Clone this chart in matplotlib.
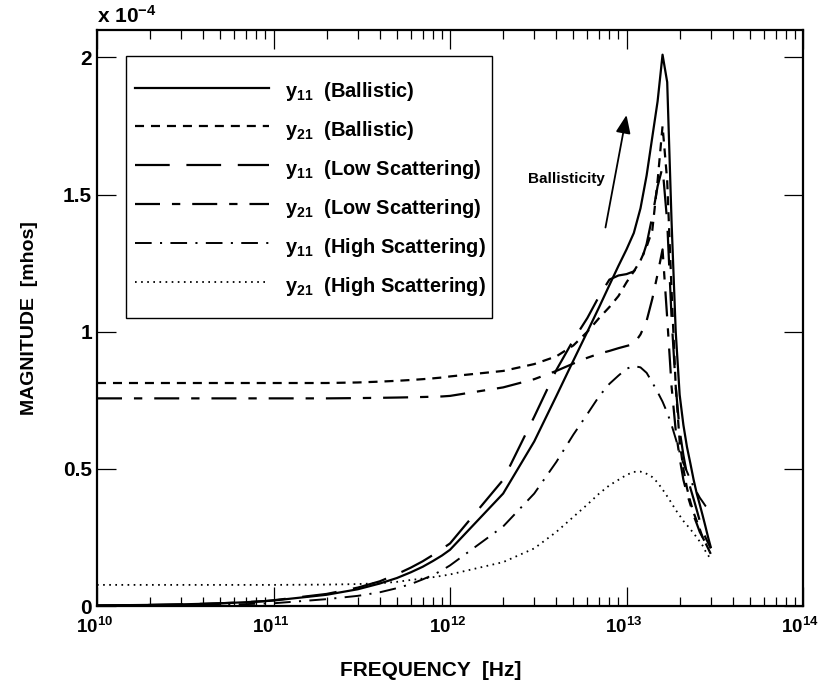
import matplotlib
matplotlib.use("Agg")
import matplotlib.pyplot as plt
from matplotlib.patches import Rectangle
from matplotlib.transforms import ScaledTranslation
from matplotlib.ticker import FixedLocator, LogLocator, NullFormatter

plt.rcParams['font.family'] = ['Liberation Sans', 'DejaVu Sans']
plt.rcParams['mathtext.fontset'] = 'custom'
plt.rcParams['mathtext.rm'] = 'Liberation Sans:bold'
plt.rcParams['mathtext.it'] = 'Liberation Sans:bold'
plt.rcParams['mathtext.bf'] = 'Liberation Sans:bold'
plt.rcParams['lines.scale_dashes'] = False

# Frequency grid [Hz]
freq_hz = ([k * 1e10 for k in range(1, 10)] +
           [k * 1e11 for k in range(1, 10)] +
           [k * 1e12 for k in range(1, 31)])

# Admittance magnitudes in units of 1e-4 mhos
y11_ballistic = [0.002, 0.004, 0.006, 0.008, 0.010, 0.012, 0.014, 0.016, 0.018,
                 0.020, 0.041, 0.061, 0.082, 0.102, 0.123, 0.143, 0.164, 0.184,
                 0.205, 0.41, 0.60, 0.765, 0.895, 1.00, 1.09, 1.17, 1.24, 1.30,
                 1.36, 1.45, 1.57, 1.71, 1.84, 2.01, 1.91, 1.40, 1.00, 0.77,
                 0.66, 0.58, 0.52, 0.46, 0.41, 0.37, 0.33, 0.29, 0.25, 0.215]
y21_ballistic = [0.813, 0.813, 0.813, 0.813, 0.813, 0.813, 0.813, 0.813, 0.813,
                 0.813, 0.813, 0.815, 0.818, 0.821, 0.824, 0.827, 0.830, 0.833,
                 0.837, 0.857, 0.882, 0.91, 0.95, 1.00, 1.05, 1.09, 1.13, 1.18,
                 1.22, 1.26, 1.31, 1.37, 1.55, 1.75, 1.55, 1.15, 0.80, 0.60,
                 0.50, 0.43, 0.38, 0.34, 0.31, 0.28, 0.25, 0.23, 0.21, 0.19]
y11_low = [0.002, 0.004, 0.006, 0.008, 0.010, 0.012, 0.014, 0.016, 0.018,
           0.021, 0.044, 0.067, 0.090, 0.116, 0.14, 0.163, 0.186, 0.208,
           0.228, 0.46, 0.69, 0.86, 0.97, 1.05, 1.13, 1.19, 1.205, 1.21,
           1.22, 1.25, 1.32, 1.42, 1.53, 1.60, 1.40, 1.05, 0.80, 0.64,
           0.55, 0.48, 0.43, 0.39, 0.35, 0.31, 0.28, 0.25, 0.23, 0.21]
y21_low = [0.757, 0.757, 0.757, 0.757, 0.757, 0.757, 0.757, 0.757, 0.757,
           0.757, 0.757, 0.758, 0.759, 0.760, 0.761, 0.762, 0.763, 0.764,
           0.766, 0.797, 0.827, 0.857, 0.884, 0.905, 0.92, 0.93, 0.94, 0.948,
           0.955, 0.99, 1.04, 1.12, 1.21, 1.30, 1.05, 0.80, 0.64, 0.54,
           0.46, 0.41, 0.37, 0.33, 0.30, 0.27, 0.25, 0.23, 0.21, 0.19]
y11_high = [0.001, 0.002, 0.003, 0.004, 0.005, 0.006, 0.007, 0.008, 0.009,
            0.010, 0.025, 0.037, 0.050, 0.065, 0.080, 0.097, 0.113, 0.130,
            0.148, 0.29, 0.41, 0.525, 0.625, 0.70, 0.765, 0.81, 0.84, 0.865,
            0.875, 0.87, 0.85, 0.815, 0.78, 0.745, 0.705, 0.66, 0.61, 0.56,
            0.52, 0.49, 0.46, 0.435, 0.415, 0.395, 0.38, 0.365, 0.355, 0.35]
y21_high = [0.077, 0.077, 0.077, 0.077, 0.077, 0.077, 0.077, 0.077, 0.077,
            0.077, 0.078, 0.080, 0.083, 0.088, 0.095, 0.100, 0.105, 0.110,
            0.115, 0.16, 0.21, 0.27, 0.325, 0.37, 0.41, 0.44, 0.46, 0.478,
            0.489, 0.49, 0.482, 0.47, 0.45, 0.425, 0.40, 0.375, 0.35, 0.33,
            0.31, 0.295, 0.28, 0.265, 0.25, 0.235, 0.22, 0.20, 0.185, 0.17]

series_labels = [r'$\mathregular{y_{11}}$  (Ballistic)',
                 r'$\mathregular{y_{21}}$  (Ballistic)',
                 r'$\mathregular{y_{11}}$  (Low Scattering)',
                 r'$\mathregular{y_{21}}$  (Low Scattering)',
                 r'$\mathregular{y_{11}}$  (High Scattering)',
                 r'$\mathregular{y_{21}}$  (High Scattering)']

y_ticks = [0, 0.5, 1, 1.5, 2]
y_tick_labels = ['0', '0.5', '1', '1.5', '2']
x_ticks = [1e10, 1e11, 1e12, 1e13, 1e14]
x_tick_labels = [r'$\mathregular{10^{10}}$', r'$\mathregular{10^{11}}$',
                 r'$\mathregular{10^{12}}$', r'$\mathregular{10^{13}}$',
                 r'$\mathregular{10^{14}}$']

fig = plt.figure(figsize=(8.2, 6.96), dpi=100)
ax = fig.add_axes([0.1183, 0.1293, 0.861, 0.8276])

styles = [
    dict(linestyle='-', linewidth=1.6),
    dict(linestyle=(0, (6.5, 5)), linewidth=1.6),
    dict(linestyle=(0, (25, 12)), linewidth=1.6),
    dict(linestyle=(0, (18, 8.6, 6, 8.6)), linewidth=1.6),
    dict(linestyle=(0, (12, 6, 1.5, 6)), linewidth=1.4),
    dict(linestyle=(0, (1.2, 3.2)), linewidth=1.3),
]
series = [y11_ballistic, y21_ballistic, y11_low, y21_low, y11_high, y21_high]
for vals, st, lab in zip(series, styles, series_labels):
    ax.plot(freq_hz, vals, color='black', label=lab, **st)

ax.set_xscale('log')
ax.set_xlim(1e10, 1e14)
ax.set_ylim(0, 2.1)

ax.xaxis.set_major_locator(FixedLocator(x_ticks))
ax.set_xticklabels(x_tick_labels)
ax.xaxis.set_minor_locator(LogLocator(base=10, subs=range(2, 10), numticks=20))
ax.xaxis.set_minor_formatter(NullFormatter())
ax.set_yticks(y_ticks)
ax.set_yticklabels(y_tick_labels)

ax.tick_params(which='both', direction='in', top=True, right=True, width=0.9)
ax.tick_params(which='major', length=14)
ax.tick_params(which='minor', length=6.5)
ax.tick_params(axis='x', which='major', pad=8, labelsize=13.5)
ax.tick_params(axis='y', which='major', labelsize=15)
shift = ScaledTranslation(-2 / 72, 0, fig.dpi_scale_trans)
for lab in ax.get_xticklabels():
    lab.set_fontweight('bold')
    lab.set_transform(lab.get_transform() + shift)
for lab in ax.get_yticklabels():
    lab.set_fontweight('bold')
for sp in ax.spines.values():
    sp.set_linewidth(1.6)

ax.set_xlabel('FREQUENCY  [Hz]', fontsize=15, fontweight='bold', labelpad=14)
ax.xaxis.set_label_coords(0.473, -0.095)
ax.set_ylabel('MAGNITUDE  [mhos]', fontsize=14, fontweight='bold', labelpad=18)

ax.text(0.0, 1.012, r'x $\mathregular{10^{-4}}$', transform=ax.transAxes,
        fontsize=15, fontweight='bold', ha='left', va='baseline')

ax.annotate('', xy=(1.0e13, 1.79), xytext=(7.6e12, 1.38),
            arrowprops=dict(arrowstyle='-|>,head_length=1.1,head_width=0.45',
                            color='black', lw=1.3, shrinkA=0, shrinkB=0))
ax.text(7.5e12, 1.556, 'Ballisticity', fontsize=11, fontweight='bold',
        ha='right', va='center')

# Legend frame
ax.add_patch(Rectangle((0.0411, 0.5), 0.5184, 0.4549, transform=ax.transAxes,
                       facecolor='white', edgecolor='black', linewidth=1.0,
                       zorder=4))
leg = ax.legend(loc='upper left', bbox_to_anchor=(0.0538, 0.917),
                fontsize=14.4, frameon=False, handlelength=6.7,
                handleheight=1.6, handletextpad=0.8, labelspacing=0.66,
                borderpad=0, borderaxespad=0)
leg.set_zorder(5)
for t in leg.get_texts():
    t.set_fontweight('bold')

fig.savefig('out.png', dpi=100)
